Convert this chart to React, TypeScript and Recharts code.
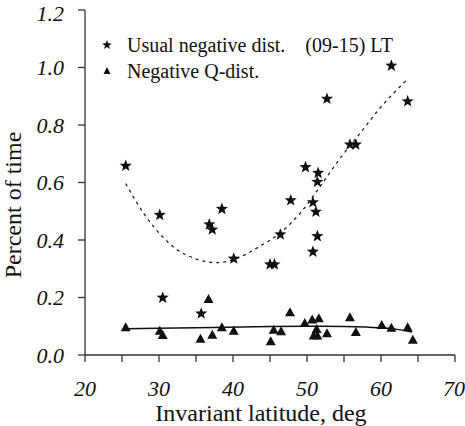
import React from "react";
import { ComposedChart, XAxis, YAxis, Scatter, Line, Label } from "recharts";

// Usual negative disturbances (stars)
const usualLat = [25.5, 30.1, 30.5, 35.7, 36.8, 37.2, 38.5, 40.1, 45.0, 45.6, 46.4, 47.8, 49.8, 50.8, 50.8, 51.2, 51.4, 51.4, 51.5, 52.7, 55.8, 56.6, 61.4, 63.6];
const usualPct = [0.658, 0.487, 0.199, 0.144, 0.454, 0.436, 0.508, 0.335, 0.315, 0.315, 0.419, 0.538, 0.653, 0.531, 0.359, 0.498, 0.602, 0.413, 0.633, 0.891, 0.732, 0.732, 1.006, 0.882];

// Negative Q-disturbances (triangles)
const qLat = [25.5, 30.1, 30.5, 35.6, 36.7, 37.2, 38.5, 40.1, 45.1, 45.5, 46.5, 47.7, 49.7, 50.7, 51.6, 51.3, 50.9, 51.4, 52.7, 55.8, 56.6, 60.1, 61.4, 63.6, 64.3];
const qPct = [0.095, 0.083, 0.068, 0.055, 0.193, 0.069, 0.095, 0.083, 0.046, 0.086, 0.081, 0.147, 0.11, 0.122, 0.126, 0.089, 0.066, 0.066, 0.074, 0.13, 0.078, 0.103, 0.093, 0.095, 0.051];

// fitted curves
const usualFitLat = [25.5, 27.9, 30.6, 32.4, 34.6, 37.8, 40.9, 43.6, 46.4, 49.1, 51.8, 54.5, 57.2, 59.9, 63.5];
const usualFitPct = [0.596, 0.494, 0.408, 0.367, 0.338, 0.321, 0.34, 0.378, 0.425, 0.494, 0.587, 0.685, 0.772, 0.86, 0.957];
const qFitLat = [25.5, 35, 45, 52, 58, 62, 64.2];
const qFitPct = [0.091, 0.095, 0.099, 0.1, 0.097, 0.09, 0.08];

const xTicks = [20, 25, 30, 35, 40, 45, 50, 55, 60, 65, 70];
const yTicks = [0, 0.2, 0.4, 0.6, 0.8, 1.0, 1.2];

const zip = (xs: number[], ys: number[]) => xs.map((x, i) => ({ x, y: ys[i] }));

const serif = '"Liberation Serif", "DejaVu Serif", serif';
const ink = "#111";
const frame = "#333";

function starPath(cx: number, cy: number, r: number) {
  const ri = r * 0.42;
  let d = "";
  for (let i = 0; i < 10; i++) {
    const rad = i % 2 === 0 ? r : ri;
    const a = -Math.PI / 2 + (i * Math.PI) / 5;
    d += (i === 0 ? "M" : "L") + (cx + rad * Math.cos(a)).toFixed(2) + "," + (cy + rad * Math.sin(a)).toFixed(2);
  }
  return d + "Z";
}

const StarMark = (props: any) => <path d={starPath(props.cx, props.cy, 6.4)} fill={ink} />;

const TriMark = (props: any) => {
  const { cx, cy } = props;
  return <path d={`M${cx},${cy - 5.5}L${cx + 5},${cy + 3.5}L${cx - 5},${cy + 3.5}Z`} fill={ink} />;
};

export default function App() {
  return (
    <div style={{ position: "absolute", left: 0, top: 0, width: 465, height: 426, background: "#fff", fontFamily: serif }}>
      <ComposedChart width={465} height={426} margin={{ top: 10, right: 10, left: 0, bottom: 0 }} style={{ fontFamily: serif }}>
        <XAxis
          xAxisId="b"
          dataKey="x"
          type="number"
          domain={[20, 70]}
          ticks={xTicks}
          tickFormatter={(v: number) => (v % 10 === 0 ? String(v) : "")}
          tickSize={7}
          tickMargin={18}
          height={71}
          stroke={frame}
          strokeWidth={1.3}
          tick={{ fontSize: 22, fontStyle: "italic", fill: ink, fontFamily: serif }}
        >
          <Label value="Invariant latitude, deg" position="insideBottom" offset={5} dx={-9} style={{ fontSize: 24, fill: ink, fontFamily: serif }} />
        </XAxis>
        <XAxis
          xAxisId="t"
          orientation="top"
          type="number"
          domain={[20, 70]}
          ticks={xTicks}
          tickFormatter={() => ""}
          mirror
          height={0}
          tickSize={7}
          stroke={frame}
          strokeWidth={1.3}
        />
        <YAxis
          yAxisId="l"
          dataKey="y"
          type="number"
          domain={[0, 1.2]}
          ticks={yTicks}
          tickFormatter={(v: number) => v.toFixed(1)}
          tickSize={7}
          tickMargin={14}
          width={85}
          stroke={frame}
          strokeWidth={1.3}
          tick={{ fontSize: 22, fontStyle: "italic", fill: ink, fontFamily: serif }}
        >
          <Label
            content={() => (
              <text transform="translate(21,205) rotate(-90)" textAnchor="middle" fontSize={24} fill={ink} style={{ fontFamily: serif }}>
                Percent of time
              </text>
            )}
          />
        </YAxis>
        <YAxis
          yAxisId="r"
          orientation="right"
          type="number"
          domain={[0, 1.2]}
          ticks={yTicks}
          tickFormatter={() => ""}
          mirror
          width={0}
          tickSize={7}
          stroke={frame}
          strokeWidth={1.3}
        />
        <Line
          xAxisId="b"
          yAxisId="l"
          data={zip(usualFitLat, usualFitPct)}
          dataKey="y"
          type="monotone"
          stroke="#222"
          strokeWidth={1.3}
          strokeDasharray="3 4"
          dot={false}
          isAnimationActive={false}
        />
        <Line
          xAxisId="b"
          yAxisId="l"
          data={zip(qFitLat, qFitPct)}
          dataKey="y"
          type="monotone"
          stroke="#111"
          strokeWidth={1.5}
          dot={false}
          isAnimationActive={false}
        />
        <Scatter xAxisId="b" yAxisId="l" data={zip(usualLat, usualPct)} shape={StarMark} isAnimationActive={false} />
        <Scatter xAxisId="b" yAxisId="l" data={zip(qLat, qPct)} shape={TriMark} isAnimationActive={false} />
      </ComposedChart>
      <div style={{ position: "absolute", left: 100, top: 32, fontSize: 20, color: ink, lineHeight: "26px", whiteSpace: "nowrap", fontFamily: serif }}>
        <div style={{ display: "flex", alignItems: "center" }}>
          <svg width={27} height={26}>
            <path d={starPath(7, 13, 5)} fill={ink} />
          </svg>
          <span>Usual negative dist.</span>
          <span style={{ marginLeft: 20 }}>(09-15) LT</span>
        </div>
        <div style={{ display: "flex", alignItems: "center" }}>
          <svg width={27} height={26}>
            <path d="M7,9L10.5,16L3.5,16Z" fill={ink} />
          </svg>
          <span>Negative Q-dist.</span>
        </div>
      </div>
    </div>
  );
}
